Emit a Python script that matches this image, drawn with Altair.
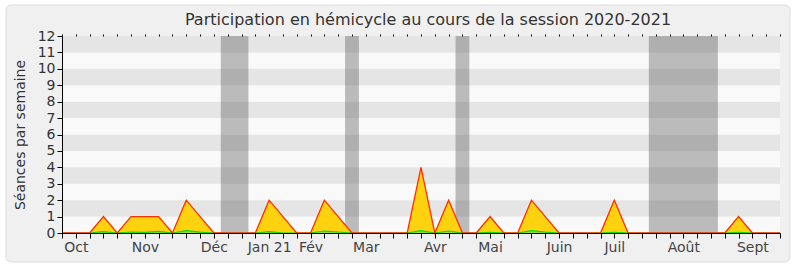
import altair as alt
import pandas as pd

# ---- data ----
weeks = list(range(53))
presence = [0, 0, 0, 1, 0, 1, 1, 1, 0, 2,
            1, 0, 0, 0, 0, 2, 1, 0, 0, 2,
            1, 0, 0, 0, 0, 0, 4, 0, 2, 0,
            0, 1, 0, 0, 2, 1, 0, 0, 0, 0,
            2, 0, 0, 0, 0, 0, 0, 0, 0, 1,
            0, 0, 0]
interventions = [0, 0, 0, 0.08, 0, 0.06, 0.04, 0.1, 0, 0.15,
                 0.05, 0, 0, 0, 0, 0.08, 0, 0, 0, 0.12,
                 0.06, 0, 0, 0, 0, 0, 0.15, 0, 0.12, 0,
                 0, 0.04, 0, 0, 0.15, 0.05, 0, 0, 0, 0,
                 0.04, 0, 0, 0, 0, 0, 0, 0, 0, 0.04,
                 0, 0, 0]
holiday_start = [11.5, 20.5, 28.5, 42.5]
holiday_end = [13.5, 21.5, 29.5, 47.5]
month_pos = [1, 6, 11, 15, 18, 22, 27, 31, 36, 40, 45, 50]
month_names = ["Oct", "Nov", "Déc", "Jan 21", "Fév", "Mar", "Avr", "Mai",
               "Juin", "Juil", "Août", "Sept"]
y_max = 12
n_weeks = 52

W, H = 718, 197

df = pd.DataFrame({"week": weeks, "presence": presence, "green": interventions})
bands = pd.DataFrame({
    "lo": list(range(y_max)),
    "hi": [i + 1 for i in range(y_max)],
    "shade": ["dark" if i % 2 == 1 else "light" for i in range(y_max)],
    "x0": [0] * y_max,
    "x1": [n_weeks] * y_max,
})
hol = pd.DataFrame({"start": holiday_start, "end": holiday_end,
                    "lo": [0] * 4, "hi": [y_max] * 4})

xscale = alt.Scale(domain=[0, n_weeks], nice=False, zero=False)
yscale = alt.Scale(domain=[0, y_max], nice=False)

label_expr = " : ".join(
    f"datum.value == {p} ? '{n}'" for p, n in zip(month_pos, month_names)
) + " : ''"

frame = alt.Chart(pd.DataFrame({"a": [0]})).mark_rect(
    fill="#F0F0F0", stroke="#DCDCDC", strokeWidth=1, cornerRadius=5
).encode(
    x=alt.value(-56), x2=alt.value(728), y=alt.value(-31), y2=alt.value(226)
)

band_layer = alt.Chart(bands).mark_rect().encode(
    x=alt.X("x0:Q", scale=xscale, axis=None),
    x2="x1:Q",
    y=alt.Y("lo:Q", scale=yscale, axis=None),
    y2="hi:Q",
    color=alt.Color("shade:N", scale=alt.Scale(domain=["dark", "light"],
                                               range=["#E5E5E5", "#F9F9F9"]),
                    legend=None),
)

hol_layer = alt.Chart(hol).mark_rect(color="#5E5E5E", opacity=0.4).encode(
    x=alt.X("start:Q", scale=xscale, axis=None),
    x2="end:Q",
    y=alt.Y("lo:Q", scale=yscale, axis=None),
    y2="hi:Q",
)

area_y = alt.Chart(df).mark_area(color="#FFD20F", opacity=1).encode(
    x=alt.X("week:Q", scale=xscale,
            axis=alt.Axis(values=weeks, labelExpr=label_expr, title=None,
                          orient="bottom", grid=False, tickSize=5,
                          tickColor="#000", domainColor="#000",
                          labelFontSize=14, labelColor="#444",
                          labelFont="DejaVu Sans", labelOverlap=False,
                          labelFlush=False, labelPadding=2, zindex=2)),
    y=alt.Y("presence:Q", scale=yscale,
            axis=alt.Axis(values=list(range(y_max + 1)), title="Séances par semaine",
                          grid=False, tickSize=5, tickColor="#000",
                          domainColor="#000", labelFontSize=14,
                          labelColor="#333", labelFont="DejaVu Sans",
                          titleFont="DejaVu Sans", titleFontSize=14,
                          titleFontWeight="normal", titleColor="#333",
                          titlePadding=10, labelPadding=2, zindex=2)),
)

top_ticks = alt.Chart(df).mark_line(opacity=0).encode(
    x=alt.X("week:Q", scale=xscale,
            axis=alt.Axis(values=weeks, orient="top", labels=False, domain=False,
                          tickSize=2, tickColor="#000", title=None, grid=False,
                          zindex=2)),
    y=alt.Y("presence:Q", scale=yscale, axis=None),
)

line_y = alt.Chart(df).mark_line(color="#FF3000", strokeWidth=1.3).encode(
    x=alt.X("week:Q", scale=xscale, axis=None),
    y=alt.Y("presence:Q", scale=yscale, axis=None),
)

area_g = alt.Chart(df).mark_area(color="#66E066", opacity=0.8).encode(
    x=alt.X("week:Q", scale=xscale, axis=None),
    y=alt.Y("green:Q", scale=yscale, axis=None),
)
line_g = alt.Chart(df).mark_line(color="#00E000", strokeWidth=1.2).encode(
    x=alt.X("week:Q", scale=xscale, axis=None),
    y=alt.Y("green:Q", scale=yscale, axis=None),
)

chart = alt.layer(
    frame, band_layer, hol_layer, area_y, area_g, line_g, line_y, top_ticks
).resolve_axis(x="independent", y="independent").properties(
    width=W, height=H,
    title=alt.Title("Participation en hémicycle au cours de la session 2020-2021",
                    font="DejaVu Sans", fontSize=16, fontWeight="normal",
                    color="#333", anchor="middle", dx=7, offset=-23, zindex=2),
    autosize=alt.AutoSizeParams(type="none"),
    padding={"left": 62, "top": 36, "right": 20, "bottom": 34},
    background="white",
).configure_view(stroke=None)

chart.save("out.html", embed_options={"renderer": "svg", "actions": False})
